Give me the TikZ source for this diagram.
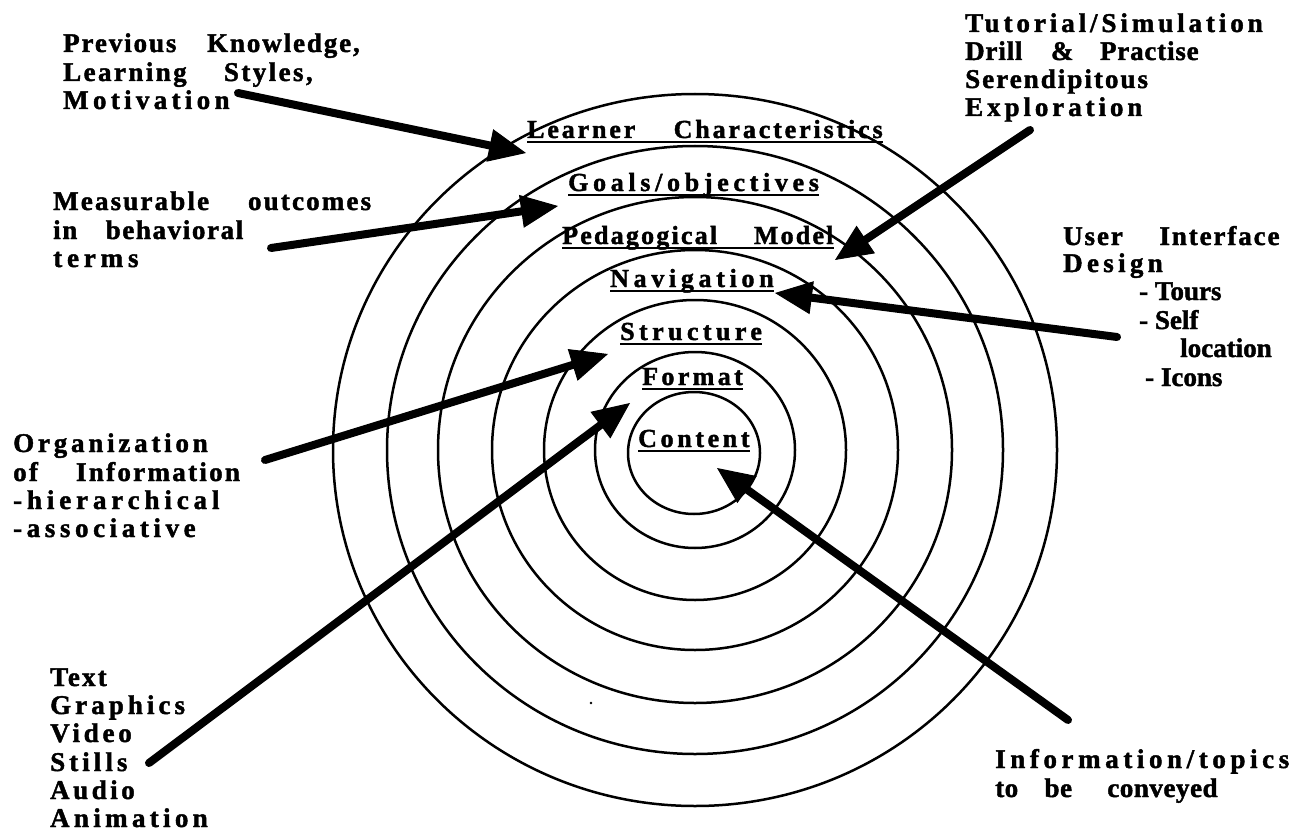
\documentclass[tikz,border=0pt]{standalone}
\usepackage{fontspec}
\setmainfont{Liberation Serif}[BoldFeatures={FakeBold=1.6}]
\usetikzlibrary{arrows.meta}
% letter-spaced text in the current font
\newcommand{\ls}[1]{\addfontfeatures{LetterSpace=#1}}

\begin{document}
\begin{tikzpicture}[x=1pt,y=-1pt,
  ring/.style={line width=2.5pt},
  pointer/.style={line width=8pt, line cap=round,
    -{Triangle[length=37pt,width=33pt,line width=1pt]}},
  side/.style={anchor=base west, inner sep=0pt,
    font=\fontsize{27}{28}\selectfont\bfseries},
  ringlabel/.style={anchor=base west, inner sep=0pt,
    font=\fontsize{26}{28}\selectfont\bfseries},
  uline/.style={line width=2.5pt}
]
\path[use as bounding box, fill=white] (0,0) rectangle (1306,832);

% concentric layers
\draw[ring] (695,450) ellipse [x radius=362pt, y radius=356pt];
\draw[ring] (695,450) ellipse [x radius=308pt, y radius=304pt];
\draw[ring] (695,450) ellipse [x radius=257pt, y radius=253pt];
\draw[ring] (695,450) ellipse [x radius=203pt, y radius=200pt];
\draw[ring] (695,450) ellipse [x radius=151pt, y radius=150pt];
\draw[ring] (695,450) ellipse [x radius=100pt, y radius=98pt];
\draw[ring] (694,453) ellipse [x radius=66pt, y radius=61pt];

% layer names
\node[ringlabel] (lc) at (527,138) {\ls{11}Learner\hspace{29pt} Characteristics};
\node[ringlabel] (go) at (568,191) {\ls{18}Goals/objectives};
\node[ringlabel] (pm) at (562,244) {\ls{8.5}Pedagogical\hspace{28pt} Model};
\node[ringlabel] (na) at (610,287) {\ls{18}Navigation};
\node[ringlabel] (st) at (620,340) {\ls{17}Structure};
\node[ringlabel] (fo) at (642,385) {\ls{13}Format};
\node[ringlabel] (co) at (638,447) {\ls{14}Content};
\foreach \n in {lc,go,pm,na,st,fo,co}
  \draw[uline] ([yshift=-4pt]\n.base west) -- ([yshift=-4pt]\n.base east);

% learner characteristics
\node[side] (a1) at (63,52) {\ls{7}Previous\hspace{22pt} Knowledge,};
\node[side] (a2) at (63,81) {\ls{9}Learning\hspace{28pt} Styles,};
\node[side] (a3) at (63,109) {\ls{16}Motivation};

% goals
\node[side] (b1) at (53,210) {\ls{8}Measurable\hspace{30pt} outcomes};
\node[side] (b2) at (53,239) {\ls{6}in\hspace{20pt} behavioral};
\node[side] (b3) at (53,267) {\ls{18}terms};

% structure
\node[side] (c1) at (13,452) {\ls{14}Organization};
\node[side] (c2) at (13,481) {\ls{8.5}of\hspace{29pt} Information};
\node[side] (c3) at (13,509) {\ls{18}-hierarchical};
\node[side] (c4) at (13,537) {\ls{17}-associative};

% format
\node[side] (d1) at (50,686) {\ls{8}Text};
\node[side] (d2) at (50,714) {\ls{15}Graphics};
\node[side] (d3) at (50,742) {\ls{14}Video};
\node[side] (d4) at (50,771) {\ls{15}Stills};
\node[side] (d5) at (50,799) {\ls{13}Audio};
\node[side] (d6) at (50,827) {\ls{16}Animation};

% content
\node[side] (e1) at (995,768) {\ls{17}Information/topics};
\node[side] (e2) at (995,797) {\ls{2}to\hspace{19pt} be\hspace{28pt} conveyed};

% pedagogical model
\node[side] (f1) at (965,32) {\ls{14.5}Tutorial/Simulation};
\node[side] (f2) at (965,60) {\ls{3}Drill\hspace{21pt} \&\hspace{19pt} Practise};
\node[side] (f3) at (965,88) {\ls{7.5}Serendipitous};
\node[side] (f4) at (965,116) {\ls{14.5}Exploration};

% navigation
\node[side] (g1) at (1063,245) {\ls{7}User\hspace{28pt} Interface};
\node[side] (g2) at (1063,272) {\ls{16}Design};
\node[side] (g3) at (1139,300) {- Tours};
\node[side] (g4) at (1139,329) {- Self};
\node[side] (g5) at (1180,357) {location};
\node[side] (g6) at (1145,386) {- Icons};

% arrow ends
\coordinate (tA) at (238,93);   \coordinate (hA) at (526,153);
\coordinate (tB) at (271,248);  \coordinate (hB) at (558,206);
\coordinate (tC) at (265,460);  \coordinate (hC) at (608,354);
\coordinate (tD) at (149,763);  \coordinate (hD) at (630,403);
\coordinate (tE) at (1068,720); \coordinate (hE) at (717,468);
\coordinate (tF) at (1030,130); \coordinate (hF) at (835,260);
\coordinate (tG) at (1117,337); \coordinate (hG) at (775,293);

\draw[pointer] (tA) -- (hA);
\draw[pointer] (tB) -- (hB);
\draw[pointer] (tC) -- (hC);
\draw[pointer] (tD) -- (hD);
\draw[pointer] (tE) -- (hE);
\draw[pointer] (tF) -- (hF);
\draw[pointer] (tG) -- (hG);

% stray ink speck
\fill (591,703) circle [radius=1.3pt];
\end{tikzpicture}
\end{document}
